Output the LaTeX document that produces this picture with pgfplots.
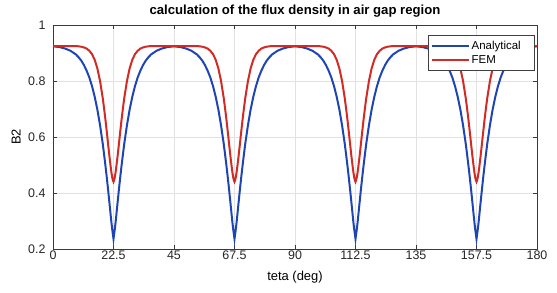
\documentclass[border=0pt]{standalone}
\usepackage{fontspec}
\setmainfont{Liberation Sans}
\usepackage{pgfplots}
\usepackage{pgfplotstable}
\pgfplotsset{compat=1.18}
\definecolor{mblue}{HTML}{1F45B5}
\definecolor{mred}{HTML}{D22B26}
\definecolor{mgrid}{HTML}{E2E2E2}
\definecolor{maxis}{HTML}{3A3A3A}
% one dip: d = angle from slot centre (deg), a = Analytical, f = FEM
\pgfplotstableread{
d a f
-22.5 0.924 0.925
-20 0.921 0.925
-18 0.916 0.925
-16 0.908 0.925
-14 0.895 0.9245
-13 0.885 0.924
-12 0.873 0.9225
-11 0.857 0.920
-10 0.837 0.916
-9 0.813 0.908
-8 0.782 0.896
-7 0.744 0.876
-6 0.698 0.845
-5 0.642 0.800
-4 0.576 0.739
-3.5 0.538 0.702
-3 0.498 0.662
-2.5 0.456 0.619
-2 0.411 0.574
-1.5 0.364 0.530
-1 0.316 0.490
-0.75 0.293 0.472
-0.5 0.272 0.457
-0.25 0.254 0.446
0 0.236 0.440
0.25 0.254 0.446
0.5 0.272 0.457
0.75 0.293 0.472
1 0.316 0.490
1.5 0.364 0.530
2 0.411 0.574
2.5 0.456 0.619
3 0.498 0.662
3.5 0.538 0.702
4 0.576 0.739
5 0.642 0.800
6 0.698 0.845
7 0.744 0.876
8 0.782 0.896
9 0.813 0.908
10 0.837 0.916
11 0.857 0.920
12 0.873 0.9225
13 0.885 0.924
14 0.895 0.9245
16 0.908 0.925
18 0.916 0.925
20 0.921 0.925
22.5 0.924 0.925
}\dip
\begin{document}
\begin{tikzpicture}
\path[use as bounding box] (-53bp,-44bp) rectangle (504bp,249bp);
\begin{axis}[
  scale only axis, width=484bp, height=224bp,
  xmin=0, xmax=180, ymin=0.2, ymax=1,
  xtick={0,22.5,45,67.5,90,112.5,135,157.5,180},
  xticklabels={0,22.5,45,67.5,90,112.5,135,157.5,180},
  ytick={0.2,0.4,0.6,0.8,1},
  yticklabels={0.2,0.4,0.6,0.8,1},
  tick pos=both, tick align=inside, major tick length=4bp,
  grid=major, grid style={mgrid, line width=0.5bp},
  axis line style={maxis, line width=0.6bp},
  tick style={maxis, line width=0.6bp},
  /pgf/number format/assume math mode=true,
  ticklabel style={font=\fontsize{12.5}{14}\selectfont, text=black!85},
  xticklabel style={yshift=1.5bp},
  yticklabel style={xshift=-4bp},
  title={\textbf{calculation of the flux density in air gap region}},
  title style={at={(axis description cs:0.5,1.018)}, anchor=base, font=\fontsize{13.2}{15}\selectfont},
  xlabel={teta (deg)},
  xlabel style={at={(axis description cs:0.5,-0.1384)}, anchor=base, font=\fontsize{13}{15}\selectfont},
  ylabel={B2},
  ylabel style={at={(axis description cs:-0.0671,0.5)}, anchor=base, rotate=0, font=\fontsize{13}{15}\selectfont},
  legend style={at={(axis description cs:0.9938,0.955)}, anchor=north east,
    draw=black!75, line width=0.5bp, fill=white,
    font=\fontsize{11.5}{13}\selectfont, inner xsep=2bp, inner ysep=3.5bp, row sep=1bp,
    cells={anchor=west}},
  legend image code/.code={\draw[#1] (0bp,0bp) -- (37bp,0bp);},
]
\addplot[mblue, line width=2bp] table[x expr=\thisrow{d}+22.5, y=a] {\dip};
\addlegendentry{Analytical\hspace*{9bp}}
\addplot[mred, line width=2bp] table[x expr=\thisrow{d}+22.5, y=f] {\dip};
\addlegendentry{FEM}
\addplot[mblue, line width=2bp, forget plot] table[x expr=\thisrow{d}+67.5, y=a] {\dip};
\addplot[mred, line width=2bp, forget plot] table[x expr=\thisrow{d}+67.5, y=f] {\dip};
\addplot[mblue, line width=2bp, forget plot] table[x expr=\thisrow{d}+112.5, y=a] {\dip};
\addplot[mred, line width=2bp, forget plot] table[x expr=\thisrow{d}+112.5, y=f] {\dip};
\addplot[mblue, line width=2bp, forget plot] table[x expr=\thisrow{d}+157.5, y=a] {\dip};
\addplot[mred, line width=2bp, forget plot] table[x expr=\thisrow{d}+157.5, y=f] {\dip};
\end{axis}
\end{tikzpicture}
\end{document}
